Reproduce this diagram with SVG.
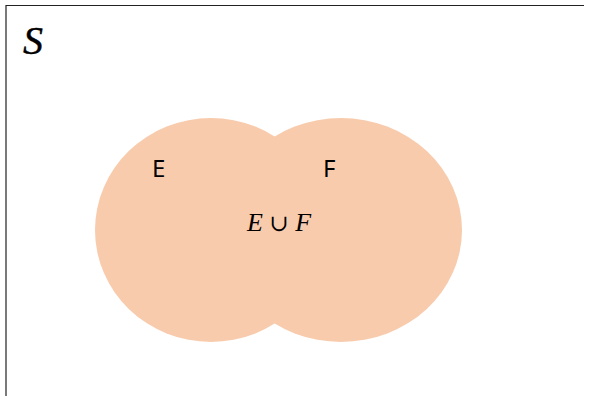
<svg xmlns="http://www.w3.org/2000/svg" width="589" height="396" viewBox="0 0 589 396">
  <style>
    .set { fill: #F8CBAD; stroke: none; }
    .frame { fill: none; stroke: #222; stroke-width: 1.2; }
    .math { font-family: "Liberation Serif", "DejaVu Serif", serif; font-style: italic; fill: #000; }
    .label { font-family: "Noto Sans", "Liberation Sans", sans-serif; font-size: 24px; fill: #000; }
  </style>
  <!-- sample space frame -->
  <g id="universe">
    <path class="frame" d="M6,396 V5.5 H584"/>
    <text class="math" x="23" y="54" font-size="40" stroke="#000" stroke-width="0.4">S</text>
  </g>
  <!-- set E -->
  <g id="set-E">
    <ellipse class="set" cx="211" cy="230" rx="116" ry="112"/>
  </g>
  <!-- set F -->
  <g id="set-F">
    <ellipse class="set" cx="341" cy="230" rx="121" ry="112"/>
  </g>
  <g id="labels">
    <text class="label" x="152" y="177">E</text>
    <text class="label" x="323" y="177">F</text>
    <text class="math" x="247" y="231" font-size="26">E <tspan font-style="normal" font-size="23">∪</tspan> F</text>
  </g>
  <g id="connectors"/>
</svg>
